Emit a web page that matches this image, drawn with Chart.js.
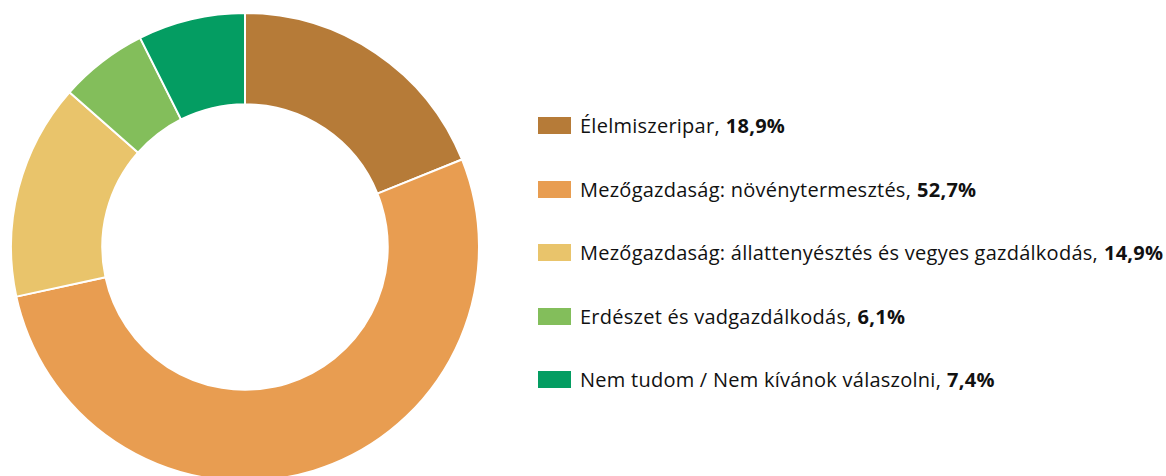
<!DOCTYPE html>
<html>
<head>
<meta charset="utf-8">
<script src="https://cdn.jsdelivr.net/npm/chart.js@4.4.0/dist/chart.umd.min.js"></script>
<style>
  html, body { margin: 0; padding: 0; background: #fff; width: 1166px; height: 476px; overflow: hidden; }
  #box_chart { position: absolute; left: 10px; top: 12px; width: 470px; height: 470px; }
  #legend { position: absolute; left: 538px; top: 114px; font-family: "Open Sans", sans-serif; font-size: 20px; color: #111; }
  .item { display: flex; align-items: center; height: 23px; margin-bottom: 40.5px; white-space: nowrap; letter-spacing: 0.25px; }
  .sw { width: 33px; height: 17px; margin-right: 9px; flex: none; }
  .item b { font-weight: 700; margin-left: 6px; }
</style>
</head>
<body>
<div id="box_chart"><canvas id="myChart"></canvas></div>
<div id="legend"></div>
<script>
const labels = [
    'Élelmiszeripar',
    'Mezőgazdaság: növénytermesztés',
    'Mezőgazdaság: állattenyésztés és vegyes gazdálkodás',
    'Erdészet és vadgazdálkodás',
    'Nem tudom / Nem kívánok válaszolni'
];
const values = [18.9, 52.7, 14.9, 6.1, 7.4];
const valueLabels = ['18,9%', '52,7%', '14,9%', '6,1%', '7,4%'];
const colors = ['#B67B38', '#E89D51', '#E9C46B', '#83BE5B', '#049D62'];

const legend = document.getElementById('legend');
labels.forEach((l, i) => {
    const row = document.createElement('div');
    row.className = 'item';
    row.innerHTML = '<span class="sw" style="background:' + colors[i] + '"></span>' +
        '<span>' + l + ',</span><b>' + valueLabels[i] + '</b>';
    legend.appendChild(row);
});

const ctx = document.getElementById('myChart').getContext('2d');
new Chart(ctx, {
    type: 'doughnut',
    data: {
        labels: labels,
        datasets: [{
            data: values,
            backgroundColor: colors,
            borderColor: '#ffffff',
            borderWidth: 2
        }]
    },
    options: {
        responsive: true,
        maintainAspectRatio: false,
        animation: false,
        cutout: '61%',
        layout: { padding: 0 },
        plugins: {
            legend: { display: false },
            tooltip: { enabled: false }
        }
    }
});
</script>
</body>
</html>
